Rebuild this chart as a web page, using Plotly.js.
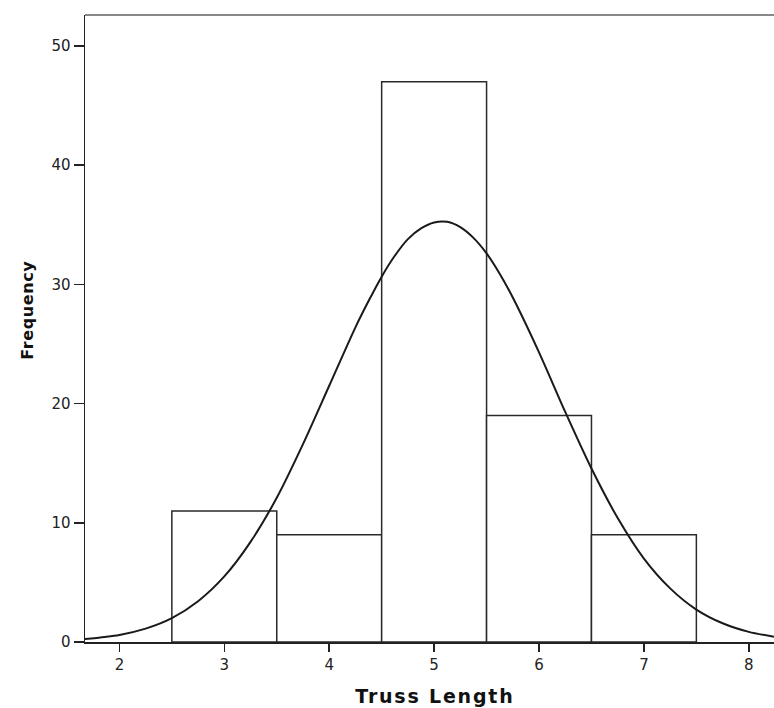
<!DOCTYPE html>
<html>
<head>
<meta charset="utf-8">
<script src="https://cdn.plot.ly/plotly-3.0.1.min.js"></script>
<style>
html,body{margin:0;padding:0;background:#fff;}
#chart{width:774px;height:708px;}
#chart .annotation .annotation-text{letter-spacing:0.6px;}
#chart .annotation[data-index="1"] .annotation-text{letter-spacing:1.8px;}
</style>
</head>
<body>
<div id="chart"></div>
<script>
// Histogram bins (bin centres) and frequencies
const binCenters = [3, 4, 5, 6, 7];
const frequencies = [11, 9, 47, 19, 9];

// Normal curve
const curveX = [1.67, 2.0, 2.25, 2.5, 2.75, 3.0, 3.25, 3.5, 3.75, 4.0, 4.25, 4.375, 4.5, 4.625, 4.75, 4.875, 5.0, 5.125, 5.25, 5.375, 5.5, 5.625, 5.75, 6.0, 6.25, 6.5, 6.75, 7.0, 7.25, 7.5, 7.75, 8.0, 8.24];
const curveY = [0.24, 0.59, 1.12, 2.0, 3.42, 5.5, 8.4, 12.1, 16.6, 21.5, 26.4, 28.6, 30.65, 32.4, 33.8, 34.7, 35.2, 35.25, 34.8, 33.9, 32.6, 30.9, 28.9, 24.3, 19.3, 14.55, 10.4, 7.0, 4.5, 2.72, 1.57, 0.85, 0.45];

const xTicks = [2, 3, 4, 5, 6, 7, 8];
const yTicks = [0, 10, 20, 30, 40, 50];

const font = "DejaVu Sans, Verdana, Arial, sans-serif";

const traces = [
  {
    type: 'bar',
    x: binCenters,
    y: frequencies,
    width: 1,
    marker: {color: '#ffffff', line: {color: '#2a2a2a', width: 1.5}},
    hoverinfo: 'x+y',
    showlegend: false
  },
  {
    type: 'scatter',
    mode: 'lines',
    x: curveX,
    y: curveY,
    line: {color: '#1a1a1a', width: 2, shape: 'spline', smoothing: 0.8},
    hoverinfo: 'skip',
    showlegend: false
  }
];

const layout = {
  width: 774,
  height: 708,
  margin: {l: 85, r: 0, t: 15, b: 66},
  paper_bgcolor: '#ffffff',
  plot_bgcolor: '#ffffff',
  bargap: 0,
  font: {family: font, color: '#222'},
  xaxis: {
    range: [1.672, 8.24],
    tickvals: xTicks,
    ticktext: xTicks.map(String),
    ticks: 'outside',
    ticklen: 8,
    tickwidth: 1.5,
    tickcolor: '#222',
    showline: true,
    linecolor: '#222',
    linewidth: 1.5,
    showgrid: false,
    zeroline: false,
    tickfont: {family: font, size: 15, color: '#222'}
  },
  yaxis: {
    range: [0, 52.6],
    tickvals: yTicks,
    ticktext: yTicks.map(String),
    ticks: 'outside',
    ticklen: 10,
    tickwidth: 1.5,
    tickcolor: '#222',
    showline: true,
    linecolor: '#222',
    linewidth: 1.5,
    showgrid: false,
    zeroline: false,
    tickfont: {family: font, size: 15, color: '#222'}
  },
  annotations: [
    {
      text: '<b>Frequency</b>',
      xref: 'paper', yref: 'paper',
      x: -58 / 689, y: (642 - 310) / 627,
      xanchor: 'center', yanchor: 'middle',
      textangle: -90,
      showarrow: false,
      font: {family: font, size: 16, color: '#111'}
    },
    {
      text: '<b>Truss Length</b>',
      xref: 'paper', yref: 'paper',
      x: (434 - 84.5) / 689, y: (642 - 696) / 627,
      xanchor: 'center', yanchor: 'middle',
      showarrow: false,
      font: {family: font, size: 19, color: '#111'}
    }
  ],
  shapes: [
    {type: 'line', xref: 'paper', yref: 'paper', x0: 0, x1: 1, y0: 1, y1: 1, line: {color: '#888888', width: 2}}
  ]
};

Plotly.newPlot('chart', traces, layout, {displayModeBar: false, staticPlot: true});
</script>
</body>
</html>
